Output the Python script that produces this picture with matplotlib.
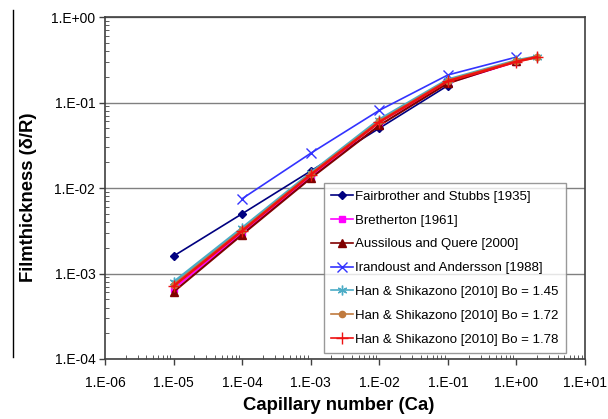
import numpy as np
import matplotlib.pyplot as plt
from matplotlib.ticker import LogLocator, FuncFormatter, NullFormatter
from matplotlib.lines import Line2D

plt.rcParams['font.family'] = ['Liberation Sans', 'DejaVu Sans']

# capillary numbers
ca_fs = [1e-5, 1e-4, 1e-3, 1e-2, 1e-1]
ca_br = [1e-5, 1e-4, 1e-3, 1e-2, 1e-1, 1.0]
ca_aq = [1e-5, 1e-4, 1e-3, 1e-2, 1e-1, 1.0]
ca_ia = [1e-4, 1e-3, 1e-2, 1e-1, 1.0]
ca_hs = [1e-5, 1e-4, 1e-3, 1e-2, 1e-1, 1.0, 2.0]

# film thickness (delta/R)
fairbrother = [1.6e-3, 5.0e-3, 1.58e-2, 5.0e-2, 0.158]
bretherton = [6.6e-4, 3.0e-3, 1.36e-2, 5.9e-2, 0.17, 0.30]
aussilous = [6.1e-4, 2.85e-3, 1.3e-2, 5.4e-2, 0.168, 0.305]
irandoust = [7.5e-3, 2.55e-2, 8.1e-2, 0.21, 0.34]
han_145 = [7.9e-4, 3.4e-3, 1.5e-2, 6.3e-2, 0.185, 0.31, 0.345]
han_172 = [7.3e-4, 3.2e-3, 1.45e-2, 6.0e-2, 0.18, 0.305, 0.34]
han_178 = [7.1e-4, 3.15e-3, 1.43e-2, 5.9e-2, 0.178, 0.30, 0.34]

fig = plt.figure(figsize=(6.08, 4.19), dpi=100)
ax = fig.add_axes([0.1727, 0.1432, 0.7895, 0.8162])

ax.plot(ca_fs, fairbrother, color='#000080', marker='D', ms=4.5, lw=1.2,
        label='Fairbrother and Stubbs [1935]')
ax.plot(ca_br, bretherton, color='#FF00FF', marker='s', ms=5, lw=1.5,
        label='Bretherton [1961]')
ax.plot(ca_aq, aussilous, color='#800000', marker='^', ms=6, lw=1.5,
        label='Aussilous and Quere [2000]')
ax.plot(ca_ia, irandoust, color='#3333FF', marker='x', ms=7, lw=1.2,
        label='Irandoust and Andersson [1988]')
ax.plot(ca_hs, han_145, color='#4BACC6', marker=(6, 2, 0), ms=7, lw=2,
        label='Han & Shikazono [2010] Bo = 1.45')
ax.plot(ca_hs, han_172, color='#C07A3E', marker='o', ms=4.5, lw=2,
        label='Han & Shikazono [2010] Bo = 1.72')
ax.plot(ca_hs, han_178, color='#EE1111', marker='+', ms=8, lw=1.8,
        label='Han & Shikazono [2010] Bo = 1.78')

ax.set_xscale('log')
ax.set_yscale('log')
ax.set_xlim(1e-6, 1e1)
ax.set_ylim(1e-4, 1e0)

fmt = FuncFormatter(lambda v, p: '1.E%+03d' % int(round(np.log10(v))))
ax.xaxis.set_major_locator(LogLocator(base=10, numticks=20))
ax.yaxis.set_major_locator(LogLocator(base=10, numticks=20))
ax.xaxis.set_major_formatter(fmt)
ax.yaxis.set_major_formatter(fmt)
ax.xaxis.set_minor_locator(LogLocator(base=10, subs=np.arange(2, 10), numticks=20))
ax.yaxis.set_minor_locator(LogLocator(base=10, subs=np.arange(2, 10), numticks=20))
ax.xaxis.set_minor_formatter(NullFormatter())
ax.yaxis.set_minor_formatter(NullFormatter())
ax.tick_params(which='major', direction='out', length=4, width=1, color='#404040',
               labelsize=10)
ax.tick_params(axis='x', which='major', pad=8)
ax.tick_params(axis='y', which='major', pad=3)
ax.tick_params(which='minor', direction='in', length=3, width=0.6, color='#404040')

ax.yaxis.grid(True, which='major', color='#808080', lw=1)
ax.set_axisbelow(True)
for s in ax.spines.values():
    s.set_color('#404040')
    s.set_linewidth(1.2)

ax.set_xlabel('Capillary number (Ca)', fontsize=13.3, fontweight='bold')
ax.set_ylabel('Filmthickness (δ/R)', fontsize=13.3, fontweight='bold')
ax.xaxis.set_label_coords(0.4875, -0.112)
ax.yaxis.set_label_coords(-0.142, 0.474)

leg = ax.legend(loc='lower right', bbox_to_anchor=(0.960, 0.0175), fontsize=9.5,
                frameon=True, fancybox=False, edgecolor='#808080',
                labelspacing=0.88, handlelength=1.6, handletextpad=0.2,
                borderpad=0.55, borderaxespad=0)
leg.get_frame().set_linewidth(1)
for h in leg.get_lines():
    h.set_linewidth(1.2)

fig.add_artist(Line2D([13 / 608, 13 / 608], [1 - 10 / 419, 1 - 357 / 419],
                      color='black', lw=1, transform=fig.transFigure))

fig.savefig('out.png', dpi=100)
